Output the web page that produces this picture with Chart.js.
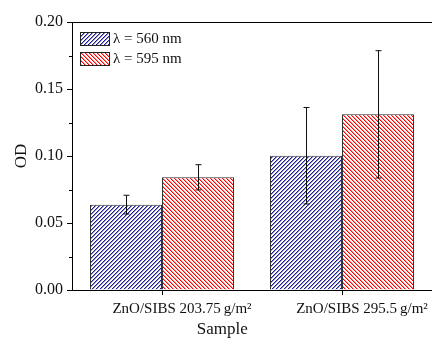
<!DOCTYPE html>
<html>
<head>
<meta charset="utf-8">
<script src="https://cdn.jsdelivr.net/npm/chart.js@4/dist/chart.umd.min.js"></script>
<style>
  html, body { margin: 0; padding: 0; background: #fff; }
  #wrap { width: 432px; height: 340px; }
</style>
</head>
<body>
<div id="wrap"><canvas id="chartOD" width="432" height="340"></canvas></div>
<script>
const samples = ['ZnO/SIBS 203.75\u2009g/m\u00B2', 'ZnO/SIBS 295.5\u2009g/m\u00B2'];
const od560 = [0.0637, 0.1002];
const err560 = [0.0070, 0.0360];
const od595 = [0.0841, 0.1311];
const err595 = [0.0094, 0.0475];
const yTicks = [0, 0.05, 0.10, 0.15, 0.20];

const FONT = "'Liberation Serif', 'Times New Roman', serif";

function hatch(color, light, rising) {
  const c = document.createElement('canvas');
  c.width = 4; c.height = 4;
  const g = c.getContext('2d');
  g.fillStyle = '#fff';
  g.fillRect(0, 0, 4, 4);
  for (let x = 0; x < 4; x++) {
    for (let y = 0; y < 4; y++) {
      const k = rising ? (x + y) % 4 : ((x - y) % 4 + 4) % 4;
      if (k === 0) { g.fillStyle = color; g.fillRect(x, y, 1, 1); }
      else if (k === 1) { g.fillStyle = light; g.fillRect(x, y, 1, 1); }
    }
  }
  return g.createPattern(c, 'repeat');
}

const errorBars = {
  id: 'errorBars',
  afterDatasetsDraw(chart) {
    const ctx = chart.ctx;
    const yScale = chart.scales.y;
    chart.data.datasets.forEach((ds, di) => {
      const meta = chart.getDatasetMeta(di);
      meta.data.forEach((bar, i) => {
        const v = ds.data[i], e = ds.errors[i];
        const yTop = yScale.getPixelForValue(v + e);
        const yBot = yScale.getPixelForValue(v - e);
        const x = Math.round(bar.x) + 0.5;
        ctx.save();
        ctx.strokeStyle = '#111';
        ctx.lineWidth = 1;
        ctx.beginPath();
        ctx.moveTo(x, yTop); ctx.lineTo(x, yBot);
        ctx.moveTo(x - 3, yTop); ctx.lineTo(x + 3, yTop);
        ctx.moveTo(x - 3, yBot); ctx.lineTo(x + 3, yBot);
        ctx.stroke();
        ctx.restore();
      });
    });
  }
};

// legend drawn inside the plot, upper left, like the original figure
const insideLegend = {
  id: 'insideLegend',
  afterDraw(chart) {
    const { ctx, chartArea } = chart;
    ctx.save();
    ctx.font = `15px ${FONT}`;
    ctx.textBaseline = 'middle';
    chart.data.datasets.forEach((ds, i) => {
      const x = chartArea.left + 8;
      const y = chartArea.top + 10 + i * 20;
      ctx.fillStyle = ds.backgroundColor;
      ctx.fillRect(x, y, 30, 14);
      ctx.strokeStyle = '#222';
      ctx.lineWidth = 1;
      ctx.strokeRect(x + 0.5, y + 0.5, 29, 13);
      ctx.fillStyle = '#111';
      ctx.fillText(ds.label, x + 33, y + 7.5);
    });
    ctx.restore();
  }
};

const frame = {
  id: 'frame',
  afterDraw(chart) {
    const { ctx, chartArea } = chart;
    const yScale = chart.scales.y;
    ctx.save();
    ctx.strokeStyle = '#000';
    ctx.lineWidth = 1;
    ctx.beginPath();
    // top border
    ctx.moveTo(chartArea.left, Math.round(chartArea.top) + 0.5);
    ctx.lineTo(chartArea.right, Math.round(chartArea.top) + 0.5);
    // minor ticks between the labelled ones
    for (let i = 0; i < yTicks.length - 1; i++) {
      const y = Math.round(yScale.getPixelForValue((yTicks[i] + yTicks[i + 1]) / 2)) + 0.5;
      ctx.moveTo(chartArea.left - 3, y);
      ctx.lineTo(chartArea.left, y);
    }
    ctx.stroke();
    ctx.restore();
  }
};

const ctx = document.getElementById('chartOD').getContext('2d');
new Chart(ctx, {
  type: 'bar',
  data: {
    labels: samples,
    datasets: [
      {
        label: '\u03BB = 560 nm',
        data: od560,
        errors: err560,
        backgroundColor: hatch('#1c1c8e', '#9292cc', true),
        borderColor: '#333',
        borderWidth: 1,
        borderSkipped: 'start'
      },
      {
        label: '\u03BB = 595 nm',
        data: od595,
        errors: err595,
        backgroundColor: hatch('#ff0000', '#ff9090', false),
        borderColor: '#333',
        borderWidth: 1,
        borderSkipped: 'start'
      }
    ]
  },
  options: {
    responsive: false,
    animation: false,
    devicePixelRatio: 1,
    layout: { padding: { top: 22, right: 0, left: 0, bottom: 0 } },
    datasets: { bar: { categoryPercentage: 0.8, barPercentage: 1.0 } },
    plugins: {
      tooltip: { enabled: false },
      legend: { display: false }
    },
    scales: {
      x: {
        offset: true,
        grid: { display: true, drawOnChartArea: false, offset: false, tickLength: 5, color: '#000' },
        border: { display: true, color: '#000', width: 1 },
        ticks: { font: { family: FONT, size: 15 }, color: '#111', padding: 5, maxRotation: 0, labelOffset: 20 },
        // trailing spaces pull the title left, as in the original
        title: { display: true, text: 'Sample\u2003\u2003\u2003\u2002', font: { family: FONT, size: 17 }, color: '#111', padding: { top: 0, bottom: 0 } },
        afterFit(scale) { scale.height = 50; }
      },
      y: {
        min: 0,
        max: 0.2,
        afterBuildTicks(scale) { scale.ticks = yTicks.map(v => ({ value: v })); },
        grid: { display: true, drawOnChartArea: false, tickLength: 5, color: '#000' },
        border: { display: true, color: '#000', width: 1 },
        ticks: {
          font: { family: FONT, size: 16 },
          color: '#111',
          padding: 4,
          callback: (v) => Number(v).toFixed(2)
        },
        title: { display: true, text: 'OD', font: { family: FONT, size: 17 }, color: '#111', padding: { top: 11, bottom: 0 } },
        afterFit(scale) { scale.width = 72; }
      }
    }
  },
  plugins: [errorBars, frame, insideLegend]
});
</script>
</body>
</html>
